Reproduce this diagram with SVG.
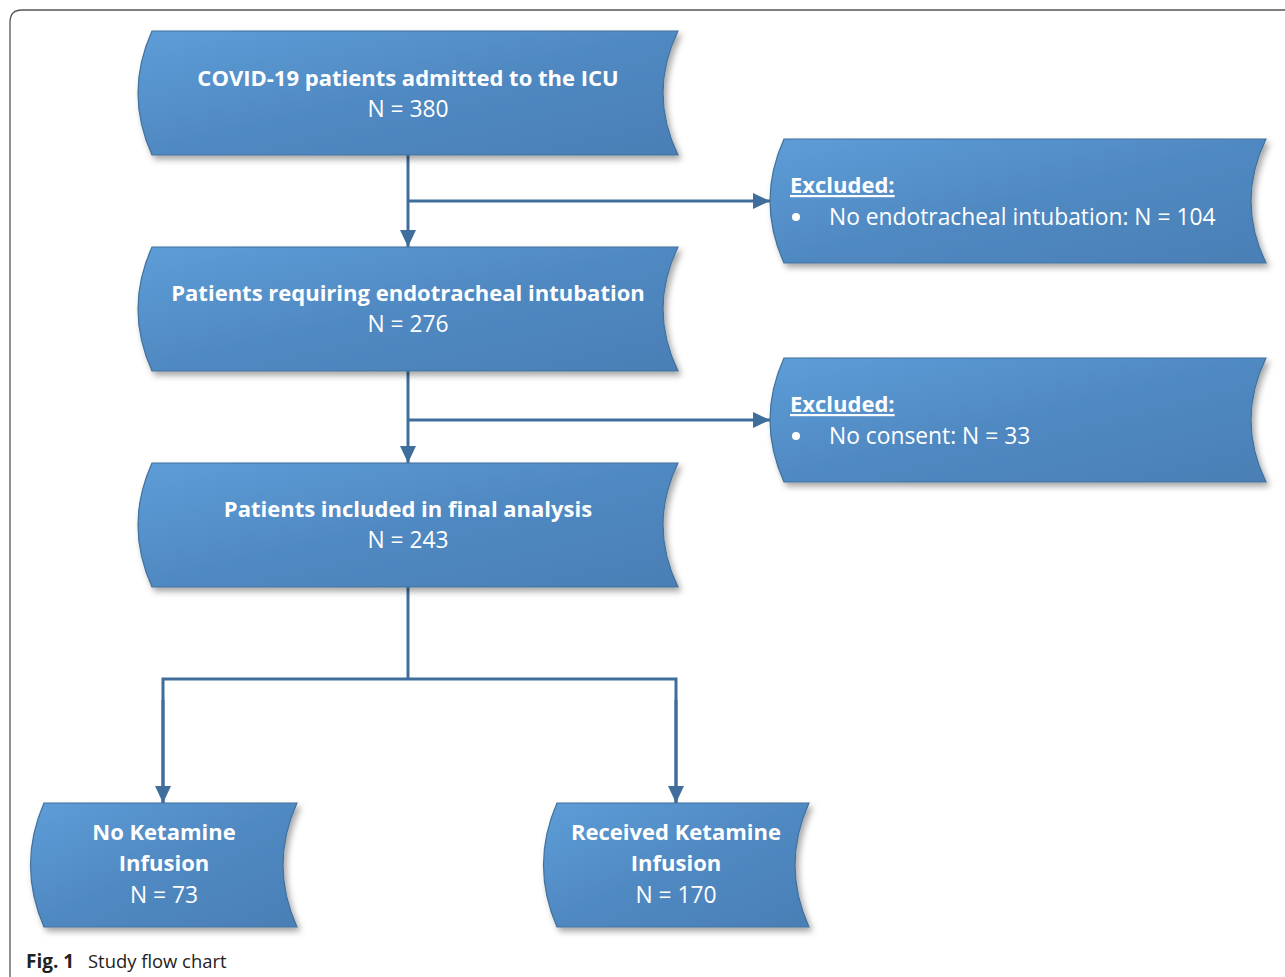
<svg xmlns="http://www.w3.org/2000/svg" width="1285" height="977" viewBox="0 0 1285 977">
<defs>
<linearGradient id="g" x1="0" y1="0" x2="1" y2="1">
<stop offset="0" stop-color="#5d9dd8"/>
<stop offset="0.5" stop-color="#5089c2"/>
<stop offset="1" stop-color="#4a7fb5"/>
</linearGradient>
<filter id="sh" x="-5%" y="-10%" width="115%" height="130%">
<feDropShadow dx="3" dy="4" stdDeviation="3" flood-color="#000" flood-opacity="0.35"/>
</filter>
<marker id="ah" markerUnits="userSpaceOnUse" markerWidth="18" markerHeight="18" viewBox="0 0 18 18" refX="17" refY="9" orient="auto">
<path d="M0,1 L17,9 L0,17 Z" fill="#3f6e9c"/>
</marker>
</defs>
<style>
.box{fill:url(#g);stroke:#41719c;stroke-width:1.2;filter:url(#sh)}
.t{font-family:"Open Sans","Noto Sans",sans-serif;fill:#fff;font-size:22.8px}
.b{font-weight:bold;font-size:22px}
.c{text-anchor:middle}
.ln{fill:none;stroke:#3f6e9c;stroke-width:3}
.cap{font-family:"Open Sans","Noto Sans",sans-serif;fill:#222;font-size:18.4px}
</style>
<path d="M10,977 L10,22 Q10,10 22,10 L1285,10" fill="none" stroke="#555" stroke-width="1.3"/>
<g id="connectors">
<line class="ln" x1="408" y1="155" x2="408" y2="247" marker-end="url(#ah)"/>
<line class="ln" x1="408" y1="201" x2="770" y2="201" marker-end="url(#ah)"/>
<line class="ln" x1="408" y1="371" x2="408" y2="463" marker-end="url(#ah)"/>
<line class="ln" x1="408" y1="420" x2="770" y2="420" marker-end="url(#ah)"/>
<polyline class="ln" points="408,587 408,679"/>
<polyline class="ln" points="163,803 163,679 676,679 676,803"/>
<line class="ln" x1="163" y1="700" x2="163" y2="803" marker-end="url(#ah)"/>
<line class="ln" x1="676" y1="700" x2="676" y2="803" marker-end="url(#ah)"/>
</g>
<g id="n1">
<path class="box" d="M152,31 L678,31 Q648,93 678,155 L152,155 Q124,93 152,31 Z"/>
<text class="t b c" x="408" y="86">COVID-19 patients admitted to the ICU</text>
<text class="t c" x="408" y="117">N = 380</text>
</g>
<g id="n2">
<path class="box" d="M152,247 L678,247 Q648,309 678,371 L152,371 Q124,309 152,247 Z"/>
<text class="t b c" x="408" y="301">Patients requiring endotracheal intubation</text>
<text class="t c" x="408" y="332">N = 276</text>
</g>
<g id="n3">
<path class="box" d="M152,463 L678,463 Q648,525 678,587 L152,587 Q124,525 152,463 Z"/>
<text class="t b c" x="408" y="517">Patients included in final analysis</text>
<text class="t c" x="408" y="548">N = 243</text>
</g>
<g id="e1">
<path class="box" d="M784,139 L1266,139 Q1236,201 1266,263 L784,263 Q756,201 784,139 Z"/>
<text class="t b" x="790" y="193" text-decoration="underline">Excluded:</text>
<circle cx="796" cy="217" r="4" fill="#fff"/>
<text class="t" x="829" y="225">No endotracheal intubation: N = 104</text>
</g>
<g id="e2">
<path class="box" d="M784,358 L1266,358 Q1236,420 1266,482 L784,482 Q756,420 784,358 Z"/>
<text class="t b" x="790" y="412" text-decoration="underline">Excluded:</text>
<circle cx="796" cy="436" r="4" fill="#fff"/>
<text class="t" x="829" y="444">No consent: N = 33</text>
</g>
<g id="k0">
<path class="box" d="M44,803 L297,803 Q269,865 297,927 L44,927 Q17,865 44,803 Z"/>
<text class="t b c" x="164" y="840">No Ketamine</text>
<text class="t b c" x="164" y="871">Infusion</text>
<text class="t c" x="164" y="903">N = 73</text>
</g>
<g id="k1">
<path class="box" d="M557,803 L809,803 Q781,865 809,927 L557,927 Q530,865 557,803 Z"/>
<text class="t b c" x="676" y="840">Received Ketamine</text>
<text class="t b c" x="676" y="871">Infusion</text>
<text class="t c" x="676" y="903">N = 170</text>
</g>
<g id="caption">
<text class="cap" x="26" y="968"><tspan font-weight="bold" font-size="19px">Fig. 1</tspan><tspan x="88">Study flow chart</tspan></text>
</g>
</svg>
